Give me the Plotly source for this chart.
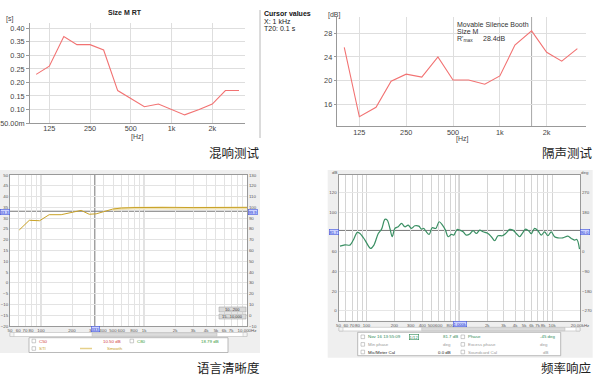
import math
import plotly.graph_objects as go

W, H = 600, 383
def px(x): return x / W
def py(y): return 1 - y / H
def lg(v): return math.log10(v)

# ---------------- data ----------------
rt_freq = [100, 125, 160, 200, 250, 315, 400, 500, 630, 800, 1000, 1250, 1600, 2000, 2500, 3150]
rt_t20 = [0.23, 0.26, 0.37, 0.34, 0.34, 0.32, 0.17, 0.14, 0.11, 0.12, 0.10, 0.08, 0.10, 0.12, 0.17, 0.17]
rt_ticks = [125, 250, 500, 1000, 2000]
rt_ticktext = ["125", "250", "500", "1k", "2k"]
rt_yticks = [0.05, 0.10, 0.15, 0.20, 0.25, 0.30, 0.35, 0.40]
rt_yticktext = ["50.00m", "0.10", "0.15", "0.20", "0.25", "0.30", "0.35", "0.40"]

si_freq = [100, 125, 160, 200, 250, 315, 400, 500, 630, 800, 1000, 1250, 1600, 2000, 2500, 3150]
si_db = [25.6, 13.9, 15.5, 19.9, 21.1, 20.6, 24.0, 20.1, 20.1, 19.4, 20.8, 26.0, 28.4, 24.8, 23.3, 25.4]
si_yticks = [16, 20, 24, 28]

sti_freq = [61.5, 77, 97, 120, 157, 197, 245, 294, 343, 497, 602, 800, 1000, 1500, 2000, 3000, 4000, 5000, 7000, 10000]
sti_val = [24.5, 29.0, 28.8, 31.6, 31.6, 32.7, 33.6, 31.8, 32.0, 34.2, 34.7, 34.9, 35.0, 35.0, 35.0, 34.9, 35.0, 35.0, 35.0, 35.0]
sti_smooth_freq = [500, 600, 800, 1000, 1500, 2000, 3000, 4000, 5000, 7000, 10000]
sti_smooth = [34.0, 34.4, 34.6, 34.7, 34.7, 34.5, 34.4, 34.6, 34.6, 34.6, 34.6]
sti_xticks = [50, 60, 70, 80, 100, 200, 300, 400, 500, 600, 800, 1000,
              2000, 3000, 4000, 5000, 6000, 7000, 10000]
sti_xticktext = ["50", "60", "70", "80", "100", "200", "3", "400", "500", "600", "800", "1k",
                 "2k", "3k", "4k", "5k", "6k", "7k", "10.000Hz"]
sti_xminor = [90, 700, 900, 8000, 9000]
sti_lticks = [-20, -15, -10, -5, 0, 5, 10, 15, 20, 25, 30, 35, 40, 45, 50]
sti_rticks = [-10, 0, 10, 20, 30, 40, 50, 60, 70, 80, 90, 100, 110, 120, 130]

fr_freq = [51.9, 58.7, 66.5, 72.2, 79.7, 85.2, 96.4, 110.9, 120.4, 134.1, 145.6, 158.1, 167.5, 179.0,
           189.6, 202.5, 220.0, 238.9, 259.5, 281.8, 306.0, 332.4, 367.0, 392.0, 415.4, 436.5, 474.0,
           510.5, 559.0, 607.0, 659.3, 710.0, 758.7, 823.9, 872.9, 947.8, 1012, 1100, 1194, 1297, 1409,
           1530, 1661, 1804, 2042, 2218, 2408, 2615, 2911, 3162, 3492, 3792, 4119, 4472, 4777, 5188,
           5636, 5971, 6484, 7042, 7646, 8304, 9018, 9793, 10641, 11556, 13083, 14800, 16080, 17460,
           18500, 19760]
fr_db = [65.8, 67.1, 66.8, 71.9, 79.7, 78.6, 71.9, 63.4, 66.8, 78.6, 83.0, 92.9, 92.2, 83.7,
         75.3, 83.7, 85.4, 88.8, 85.4, 87.1, 83.7, 86.4, 86.1, 83.0, 83.7, 81.0, 77.6,
         84.4, 83.7, 90.5, 87.1, 82.0, 75.3, 77.6, 76.9, 82.7, 82.0, 80.3, 76.9, 78.0, 81.4,
         78.6, 82.0, 80.3, 78.6, 75.3, 71.2, 76.3, 76.3, 78.6, 82.7, 82.0, 78.6, 75.3, 78.6, 83.0,
         81.0, 78.3, 83.7, 81.4, 76.9, 80.3, 76.3, 80.3, 75.3, 74.2, 74.2, 75.9, 73.6, 71.9,
         72.5, 62.7]
fr_xticks = [50, 60, 70, 80, 100, 200, 300, 400, 500, 600, 800,
             2000, 3000, 4000, 5000, 6000, 7000, 8000, 10000, 20000]
fr_xticktext = ["50", "60", "70", "80", "100", "200", "300", "400", "500", "600", "800",
                "2k", "3k", "4k", "5k", "6k", "7k", "8k", "10k", "20.00kHz"]
fr_xminor = [90, 700, 900, 1000, 9000]
fr_lticks = [0, 20, 40, 60, 100, 120]
fr_rticks = [-270, -180, -90, 0, 180, 270]

# ---------------- figure ----------------
fig = go.Figure()
fig.add_trace(go.Scatter(x=rt_freq, y=rt_t20, mode="lines", line=dict(color="#f27272", width=1.1),
                         xaxis="x", yaxis="y", hoverinfo="skip"))
fig.add_trace(go.Scatter(x=si_freq, y=si_db, mode="lines", line=dict(color="#f27272", width=1.1),
                         xaxis="x2", yaxis="y2", hoverinfo="skip"))
fig.add_trace(go.Scatter(x=sti_smooth_freq, y=sti_smooth, mode="lines", line=dict(color="#efe2b4", width=2.8),
                         xaxis="x3", yaxis="y3", hoverinfo="skip"))
fig.add_trace(go.Scatter(x=sti_freq, y=sti_val, mode="lines", line=dict(color="#c9a227", width=1),
                         xaxis="x3", yaxis="y3", hoverinfo="skip"))
fig.add_trace(go.Scatter(x=[1000], y=[50], mode="lines", xaxis="x3", yaxis="y4", showlegend=False,
                         hoverinfo="skip", line=dict(color="rgba(0,0,0,0)")))
fig.add_trace(go.Scatter(x=fr_freq, y=fr_db, mode="lines",
                         line=dict(color="#3a8f63", width=1.2, shape="spline", smoothing=0.9),
                         xaxis="x4", yaxis="y5", hoverinfo="skip"))
fig.add_trace(go.Scatter(x=[1000], y=[0], mode="lines", xaxis="x4", yaxis="y6", showlegend=False,
                         hoverinfo="skip", line=dict(color="rgba(0,0,0,0)")))

tf_top = dict(family="Liberation Sans, Arial", size=7.3, color="#444")
tf_bot = dict(family="Liberation Sans, Arial", size=4.4, color="#555")

common_top = dict(showline=True, linecolor="#999", linewidth=1, gridcolor="#dedede", gridwidth=1,
                  zeroline=False, ticks="outside", ticklen=2, tickcolor="#999", tickfont=tf_top,
                  fixedrange=True, tickangle=0, automargin=False)
common_bot = dict(showline=True, linecolor="#999", linewidth=1, mirror=True, gridcolor="#e3e3e3",
                  gridwidth=1, zeroline=False, ticks="", tickfont=tf_bot, fixedrange=True,
                  tickangle=0, automargin=False)

layout = dict(
    width=W, height=H, margin=dict(l=0, r=0, t=0, b=0, pad=0), autosize=False,
    paper_bgcolor="white", plot_bgcolor="white", showlegend=False,
    xaxis=dict(common_top, type="log", domain=[px(30), px(245)], range=[lg(90), lg(3490)],
               tickvals=rt_ticks, ticktext=rt_ticktext, anchor="y", ticks="", ticklabelstandoff=-2),
    yaxis=dict(common_top, domain=[py(123), py(23)], range=[0.05, 0.42], tickvals=rt_yticks,
               ticktext=rt_yticktext, anchor="x", ticklen=3),
    xaxis2=dict(common_top, type="log", domain=[px(336.7), px(586)], range=[lg(89.4), lg(3580)],
                tickvals=rt_ticks, ticktext=rt_ticktext, anchor="y2", ticks="", ticklabelstandoff=-1),
    yaxis2=dict(common_top, domain=[py(126), py(17)], range=[12.34, 30.75], tickvals=si_yticks,
                anchor="x2"),
    xaxis3=dict(common_bot, type="log", domain=[px(10), px(247)], range=[lg(50), lg(10000)],
                tickvals=sti_xticks, ticktext=sti_xticktext, anchor="y3",
                minor=dict(tickvals=sti_xminor, showgrid=True, gridcolor="#e3e3e3", ticks="")),
    yaxis3=dict(common_bot, domain=[py(326), py(175)], range=[-20, 50], tickvals=sti_lticks,
                anchor="x3"),
    yaxis4=dict(common_bot, overlaying="y3", side="right", range=[-10, 130], tickvals=sti_rticks,
                showgrid=False, anchor="x3"),
    xaxis4=dict(common_bot, type="log", domain=[px(338.5), px(580)], range=[lg(50), lg(20000)],
                tickvals=fr_xticks, ticktext=fr_xticktext, anchor="y5", gridcolor="#d4d4d4",
                minor=dict(tickvals=fr_xminor, showgrid=True, gridcolor="#d4d4d4", ticks="")),
    yaxis5=dict(common_bot, domain=[py(320.7), py(175)], range=[-10, 138], tickvals=fr_lticks,
                anchor="x4", gridcolor="#e6e6e6"),
    yaxis6=dict(common_bot, overlaying="y5", side="right", range=[-315, 351], tickvals=fr_rticks,
                showgrid=False, anchor="x4"),
)
fig.update_layout(layout)

shapes = []
def rect(x0, y0, x1, y1, fill, line="rgba(0,0,0,0)", lw=0, layer="below"):
    shapes.append(dict(type="rect", xref="paper", yref="paper", x0=px(x0), x1=px(x1),
                       y0=py(y1), y1=py(y0), fillcolor=fill, line=dict(color=line, width=lw),
                       layer=layer))
def pline(x0, y0, x1, y1, color, w=1, layer="above"):
    shapes.append(dict(type="line", xref="paper", yref="paper", x0=px(x0), x1=px(x1),
                       y0=py(y0), y1=py(y1), line=dict(color=color, width=w), layer=layer))

# gray software panels
rect(0, 170, 260, 353, "#efefef")
rect(10, 175, 247, 326, "white")
rect(327.7, 170, 592.7, 357.7, "#efefef")
rect(338.5, 175, 580, 320.7, "white")

# top-left cursor panel divider
pline(260, 10, 260, 138, "#b8b8b8")

# cursor lines
shapes.append(dict(type="line", xref="x", yref="paper", x0=1000, x1=1000, y0=py(123), y1=py(23),
                   line=dict(color="#9a9a9a", width=1), layer="between"))
shapes.append(dict(type="line", xref="x2", yref="paper", x0=1600, x1=1600, y0=py(126), y1=py(17),
                   line=dict(color="#a8a8a8", width=1), layer="between"))
for f in [100, 1000]:
    shapes.append(dict(type="line", xref="x3", yref="paper", x0=f, x1=f, y0=py(326), y1=py(175),
                       line=dict(color="#c4c4c4", width=1), layer="between"))
shapes.append(dict(type="line", xref="x3", yref="paper", x0=333, x1=333, y0=py(326), y1=py(175),
                   line=dict(color="#777", width=1), layer="between"))
shapes.append(dict(type="line", xref="paper", yref="y3", x0=px(10), x1=px(247), y0=33.2, y1=33.2,
                   line=dict(color="#777", width=1), layer="between"))
shapes.append(dict(type="line", xref="x4", yref="paper", x0=1000, x1=1000, y0=py(320.7), y1=py(175),
                   line=dict(color="#777", width=1), layer="between"))
shapes.append(dict(type="line", xref="paper", yref="y5", x0=px(338.5), x1=px(580), y0=81.7, y1=81.7,
                   line=dict(color="#777", width=1), layer="between"))

# scrollbars
rect(10, 332.5, 247, 336.5, "white", "#bbb", 0.6, "above")
rect(92, 332.8, 217, 336.2, "#dcdcdc", "#bbb", 0.5, "above")
rect(10, 332.5, 14, 336.5, "#f4f4f4", "#bbb", 0.5, "above")
rect(243, 332.5, 247, 336.5, "#f4f4f4", "#bbb", 0.5, "above")
rect(339, 327.3, 580, 331, "white", "#bbb", 0.6, "above")
rect(421.7, 327.6, 565, 330.7, "#dcdcdc", "#bbb", 0.5, "above")
rect(339, 327.3, 343, 331, "#f4f4f4", "#bbb", 0.5, "above")
rect(576, 327.3, 580, 331, "#f4f4f4", "#bbb", 0.5, "above")

# legend boxes
rect(29, 337.7, 228, 352.5, "white", "#aaa", 0.8, "above")
rect(357.7, 332.3, 560.7, 355.7, "white", "#aaa", 0.8, "above")
for (x, y) in [(32, 341), (130, 341), (32, 348.5)]:
    rect(x, y - 1.8, x + 3.6, y + 1.8, "white", "#999", 0.5, "above")
for (x, y) in [(361, 336.8), (361, 344.4), (361, 352), (461, 336.8), (461, 344.4), (461, 352)]:
    rect(x, y - 1.8, x + 3.6, y + 1.8, "white", "#999", 0.5, "above")
pline(80, 348.5, 92, 348.5, "#e6d08a", 1.5)

# buttons in speech panel
rect(219, 307, 246, 312, "#dadada", "#999", 0.5, "above")
rect(219, 314, 246, 319, "#dadada", "#999", 0.5, "above")

fig.update_layout(shapes=shapes)

ann = []
def txt(x, y, s, size=7, color="#222", xanchor="left", family="Liberation Sans, Arial", bold=False,
        bg=None, border=None):
    d = dict(xref="paper", yref="paper", x=px(x), y=py(y), text=("<b>%s</b>" % s) if bold else s,
             showarrow=False, xanchor=xanchor, yanchor="middle",
             font=dict(family=family, size=size, color=color))
    if bg:
        d.update(bgcolor=bg, bordercolor=border, borderwidth=0.6, borderpad=0)
    ann.append(d)

# top-left
txt(125, 12, "Size M RT", 7, "#222", "center", bold=True)
txt(4, 19, "[s]", 7, "#444")
txt(137, 137.5, "[Hz]", 7, "#444", "center")
txt(262, 13, "Cursor values", 7, "#111", bold=True)
txt(262, 21, "X: 1 kHz", 7, "#222")
txt(262, 28, "T20: 0.1 s", 7, "#222")
# top-right
txt(326, 15, "[dB]", 7, "#444")
txt(462, 138.5, "[Hz]", 7, "#444", "center")
txt(455, 25, "Movable Silence Booth", 7, "#333")
txt(455, 32, "Size M", 7, "#333")
txt(455, 39, "R'<sub>max</sub>", 7, "#333")
txt(481, 39, "28.4dB", 7, "#333")
# captions
cjk = "Noto Sans CJK SC"
txt(234, 152.5, "混响测试", 12.5, "#222", "center", cjk)
txt(567, 152.5, "隔声测试", 12.5, "#222", "center", cjk)
txt(228, 367.5, "语言清晰度", 12.5, "#222", "center", cjk)
txt(565.5, 367, "频率响应", 12.5, "#222", "center", cjk)

# cursor value boxes
blue_bg, blue_bd, blue_tx = "#cdd3ff", "#4455dd", "#2233cc"
txt(5, 211.5, "33.3", 4.1, blue_tx, "center", bg=blue_bg, border=blue_bd)
txt(252.5, 211.5, "99.9", 4.1, blue_tx, "center", bg=blue_bg, border=blue_bd)
txt(95.5, 328.5, "333", 4.1, blue_tx, "center", bg=blue_bg, border=blue_bd)
txt(334, 232, "81.7", 4.1, blue_tx, "center", bg=blue_bg, border=blue_bd)
txt(585, 232, "90.0", 4.1, blue_tx, "center", bg=blue_bg, border=blue_bd)
txt(460, 323.5, "1.000k", 4.1, blue_tx, "center", bg=blue_bg, border=blue_bd)

# speech legend
txt(37, 341, "C50", 4.4, "#d04040")
txt(101, 341, "10.50 dB", 4.4, "#d04040")
txt(135, 341, "C80", 4.4, "#3a9a3a")
txt(199, 341, "18.79 dB", 4.4, "#3a9a3a")
txt(37, 348.5, "STI", 4.4, "#c9a227")
txt(105, 348.5, "Smooth", 4.4, "#c9a227")
txt(232.5, 309.5, "10...200", 4, "#333", "center")
txt(232.5, 316.5, "15...10,000", 4, "#333", "center")

# freq response legend
txt(366, 336.8, "Nov 16 13:55:09", 4.4, "#2f8a57")
txt(414, 336.8, "1/12", 4.2, "#2f8a57", "center", bg="white", border="#2f8a57")
txt(441, 336.8, "81.7 dB", 4.4, "#2f8a57")
txt(466, 336.8, "Phase", 4.4, "#2f8a57")
txt(538, 336.8, "-45 deg", 4.4, "#2f8a57")
txt(366, 344.4, "Min phase", 4.4, "#999")
txt(441, 344.4, "deg", 4.4, "#999")
txt(466, 344.4, "Excess phase", 4.4, "#999")
txt(538, 344.4, "deg", 4.4, "#999")
txt(366, 352, "Mic/Meter Cal", 4.4, "#222")
txt(436, 352, "0.0 dB", 4.4, "#222")
txt(466, 352, "Soundcard Cal", 4.4, "#999")
txt(541, 352, "dB", 4.4, "#999")
txt(334, 172, "dB", 4.4, "#555", "center")
txt(585, 172, "deg", 4.4, "#555", "center")

fig.update_layout(annotations=ann)
fig.write_html("out.html", config={"displayModeBar": False},
               post_script="document.body.style.margin='0px';document.body.style.padding='0px';")
